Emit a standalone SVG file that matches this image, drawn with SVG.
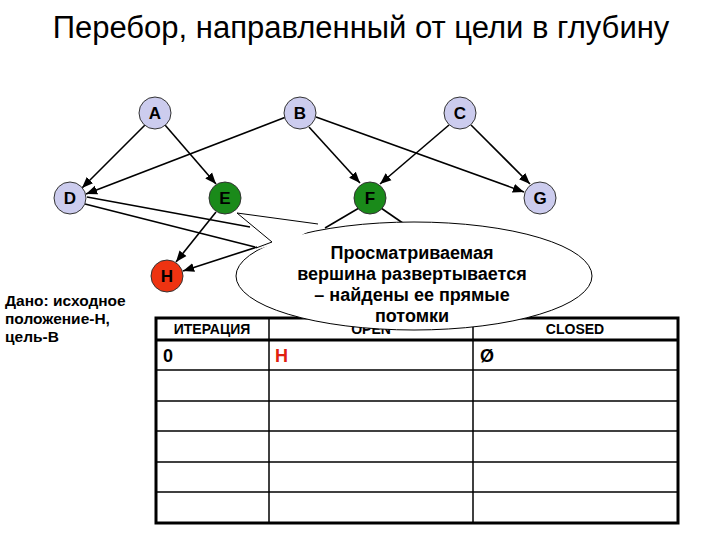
<svg xmlns="http://www.w3.org/2000/svg" width="720" height="540" viewBox="0 0 720 540">
<defs>
<marker id="ar" viewBox="0 0 10 10" refX="10" refY="5" markerWidth="7" markerHeight="7" orient="auto"><path d="M0,1 L10,5 L0,9 z" fill="#000"/></marker>
<style>
text{font-family:"Liberation Sans",Arial,sans-serif}
.n circle{stroke:#333;stroke-width:1}
.n text{font-size:17px;font-weight:bold;text-anchor:middle}
.c line{stroke:#000;stroke-width:1.6;marker-end:url(#ar)}
.c line.p{marker-end:none}
.h{font-size:14px;font-weight:bold;text-anchor:middle}
</style>
</defs>
<rect width="720" height="540" fill="#fff"/>
<text x="361" y="38" font-size="31" text-anchor="middle">Перебор, направленный от цели в глубину</text>
<g font-size="15.5" font-weight="bold"><text x="5" y="306">Дано: исходное</text><text x="5" y="324">положение-Н,</text><text x="5" y="342">цель-В</text></g>
<g id="table">
<rect x="156" y="318" width="522" height="205" fill="none" stroke="#000" stroke-width="3"/>
<line x1="156" y1="340" x2="678" y2="340" stroke="#000" stroke-width="3"/>
<g stroke="#000" stroke-width="1.5"><line x1="156" y1="370" x2="678" y2="370"/><line x1="156" y1="401" x2="678" y2="401"/><line x1="156" y1="431" x2="678" y2="431"/><line x1="156" y1="462" x2="678" y2="462"/><line x1="156" y1="492" x2="678" y2="492"/><line x1="269" y1="318" x2="269" y2="523"/><line x1="473" y1="318" x2="473" y2="523"/></g>
<text x="212" y="334" class="h">ИТЕРАЦИЯ</text><text x="371" y="334" class="h">OPEN</text><text x="575" y="334" class="h">CLOSED</text>
<text x="163" y="362" font-size="18" font-weight="bold">0</text>
<text x="275" y="362" font-size="18" font-weight="bold" fill="#e02010">Н</text>
<text x="480" y="362" font-size="18" font-weight="bold">Ø</text>
</g>
<g id="connectors" class="c">
<line x1="145" y1="125" x2="82" y2="188"/>
<line x1="165" y1="125" x2="216" y2="184"/>
<line x1="286" y1="117" x2="86" y2="194"/>
<line x1="309" y1="127" x2="360" y2="183"/>
<line x1="316" y1="117" x2="524" y2="192"/>
<line x1="449" y1="125" x2="380" y2="184"/>
<line x1="471" y1="125" x2="530" y2="184"/>
<line x1="216" y1="212" x2="176" y2="262"/>
<line x1="257" y1="247" x2="183" y2="271"/>
<line class="p" x1="87" y1="197" x2="250" y2="227"/>
<line class="p" x1="85" y1="204" x2="255" y2="247"/>
<line class="p" x1="359" y1="208" x2="325" y2="228"/>
<line class="p" x1="381" y1="208" x2="410" y2="228"/>
</g>
<g id="A" class="n"><circle cx="155" cy="113" r="16" fill="#ccccee"/><text x="155" y="119">A</text></g>
<g id="B" class="n"><circle cx="300" cy="113" r="16" fill="#ccccee"/><text x="300" y="119">B</text></g>
<g id="C" class="n"><circle cx="460" cy="113" r="16" fill="#ccccee"/><text x="460" y="119">C</text></g>
<g id="D" class="n"><circle cx="70" cy="198" r="16" fill="#ccccee"/><text x="70" y="204">D</text></g>
<g id="E" class="n"><circle cx="225" cy="198" r="16" fill="#1a8a1a"/><text x="225" y="204">E</text></g>
<g id="F" class="n"><circle cx="370" cy="198" r="16" fill="#1a8a1a"/><text x="370" y="204">F</text></g>
<g id="G" class="n"><circle cx="540" cy="198" r="16" fill="#ccccee"/><text x="540" y="204">G</text></g>
<g id="H" class="n"><circle cx="167" cy="276" r="16" fill="#ee3311"/><text x="167" y="282">H</text></g>
<g id="callout">
<ellipse cx="414" cy="276" rx="178" ry="54" fill="#fff" stroke="#000" stroke-width="1"/>
<polygon points="237,213 272,242 256,250 300,236 320,225" fill="#fff"/>
<polyline points="318,224 237,213 272,242 256,248" fill="none" stroke="#000" stroke-width="1"/>
<g font-size="18" font-weight="bold" text-anchor="middle"><text x="412" y="259">Просматриваемая</text><text x="412" y="280">вершина развертывается</text><text x="412" y="301">– найдены ее прямые</text><text x="412" y="322">потомки</text></g>
</g>
</svg>
